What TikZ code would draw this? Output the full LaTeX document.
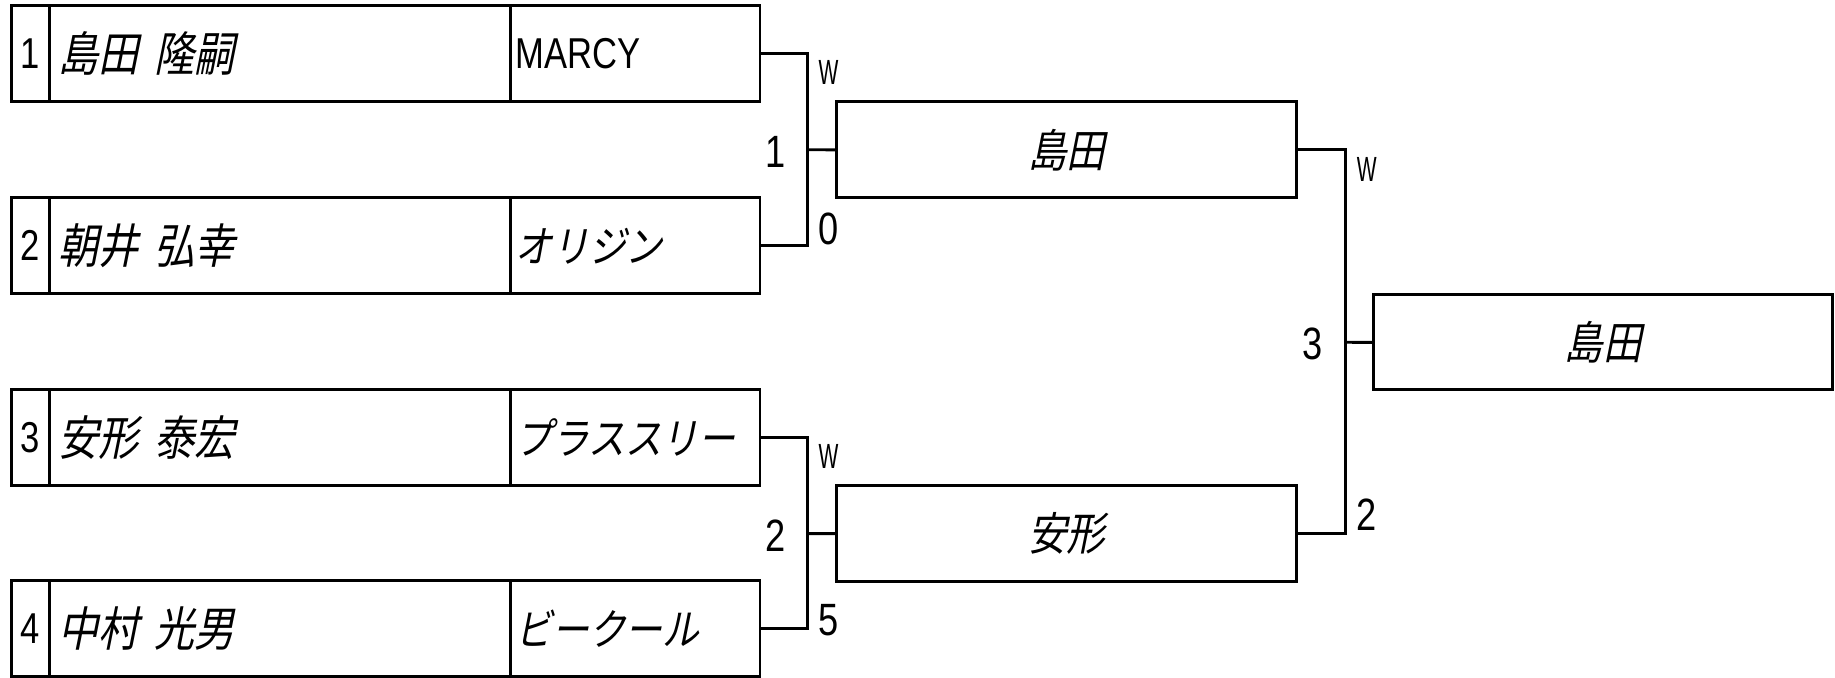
\documentclass[tikz,border=0pt]{standalone}
\usepackage{fontspec}
\setmainfont{Liberation Sans}
\newfontfamily\jpit[FakeSlant=0.2,FakeStretch=0.85]{Noto Sans CJK JP}
\newfontfamily\narr[FakeStretch=0.8]{Liberation Sans}
\newfontfamily\vnarr[FakeStretch=0.6]{Liberation Sans}
\newcommand{\nmfont}{\jpit\fontsize{11.5}{13}\selectfont}
\newcommand{\tmfont}{\narr\fontsize{10.5}{12}\selectfont}
\newcommand{\scfont}{\narr\fontsize{11}{13}\selectfont}
\newcommand{\wfont}{\vnarr\fontsize{8.5}{10}\selectfont}

\begin{document}
\begin{tikzpicture}[x=0.01cm,y=-0.01cm,line width=0.7pt,
   box/.style={draw,inner sep=0pt,outer sep=0pt,minimum height=0.82cm,anchor=north west},
   numcell/.style={box,minimum width=0.32cm,font=\narr\fontsize{10.5}{12}\selectfont},
   namecell/.style={box,inner xsep=0.08cm,text width=3.78cm,align=left,font=\nmfont},
   teamcell/.style={box,inner xsep=0.045cm,text width=2.04cm,align=left,font=\tmfont},
   wincell/.style={box,minimum width=3.93cm,font=\jpit\fontsize{11}{13}\selectfont}]
   \useasboundingbox (0,0) rectangle (1568,579);
   % first round
   \foreach \i/\y/\name/\team in {1/5/{島田 隆嗣}/{MARCY},
                                  2/169/{朝井 弘幸}/{\jpit\fontsize{10.5}{12}\selectfont オリジン},
                                  3/333/{安形 泰宏}/{\jpit\fontsize{10.5}{12}\selectfont プラススリー},
                                  4/496/{中村 光男}/{\jpit\fontsize{10.5}{12}\selectfont ビークール}} {
      \node[numcell] (n\i) at (10,\y) {\i};
      \node[namecell] (p\i) at (n\i.north east) {\name};
      \node[teamcell] (t\i) at (p\i.north east) {\team};
   }
   % second round and final
   \node[wincell] (s1) at (715,87) {島田};
   \node[wincell] (s2) at (715,415) {安形};
   \node[wincell,minimum width=3.92cm,minimum height=0.81cm] (f) at (1174,252) {島田};
   \coordinate (j1) at (690,128);
   \coordinate (j2) at (690,456);
   \coordinate (j3) at (1150,292.5);
   \draw (t1.east) -| (j1) |- (t2.east);
   \draw (t3.east) -| (j2) |- (t4.east);
   \draw (s1.east) -| (j3) |- (s2.east);
   \draw (j1) -- (s1.west);
   \draw (j2) -- (s2.west);
   \draw (j3) -- (f.west);
   % scores
   \node[font=\scfont] (g1) at (663,130) {1};
   \node[font=\wfont] (w1) at (708,62) {W};
   \node[font=\scfont] (l1) at (708,196) {0};
   \node[font=\scfont] (g2) at (663,458) {2};
   \node[font=\wfont] (w2) at (708,390) {W};
   \node[font=\scfont] (l2) at (708,530) {5};
   \node[font=\scfont] (g3) at (1122,294) {3};
   \node[font=\wfont] (w3) at (1168,145) {W};
   \node[font=\scfont] (l3) at (1168,440) {2};
\end{tikzpicture}
\end{document}
